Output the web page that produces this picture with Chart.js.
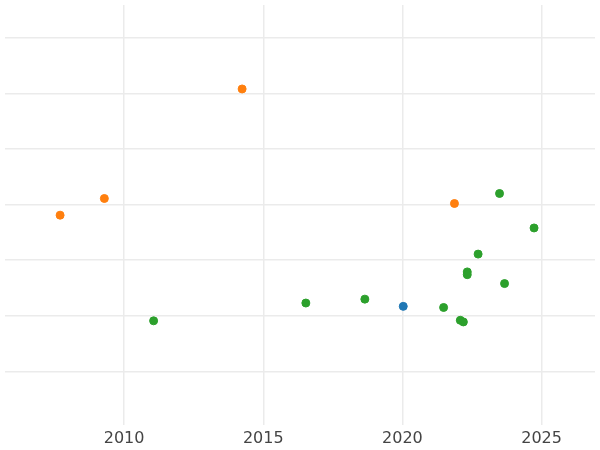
<!DOCTYPE html>
<html>
<head>
<script src="https://cdn.jsdelivr.net/npm/chart.js@4"></script>
<style>
  body { margin: 0; background: #fff; }
  #wrap { width: 600px; height: 450px; }
</style>
</head>
<body>
<div id="wrap"><canvas id="chart"></canvas></div>
<script>
const orangeX = [2007.70, 2009.29, 2014.24, 2021.87];
const orangeY = [3.81, 4.11, 6.08, 4.02];
const blueX = [2020.03];
const blueY = [2.17];
const greenX = [2011.06, 2016.53, 2018.65, 2021.48, 2022.08, 2022.19, 2022.33, 2022.33, 2022.72, 2023.49, 2023.67, 2024.73];
const greenY = [1.91, 2.23, 2.30, 2.15, 1.92, 1.89, 2.79, 2.74, 3.11, 4.20, 2.58, 3.58];
const xTicks = [2010, 2015, 2020, 2025];
const yTicks = [1, 2, 3, 4, 5, 6, 7];

function pts(xs, ys) {
  return xs.map((x, i) => ({ x: x, y: ys[i] }));
}

function series(xs, ys, color) {
  return {
    data: pts(xs, ys),
    backgroundColor: color,
    borderColor: color,
    pointRadius: 4,
    pointHoverRadius: 4
  };
}

new Chart(document.getElementById("chart"), {
  type: "scatter",
  data: {
    datasets: [
      series(orangeX, orangeY, "#ff7f0e"),
      series(blueX, blueY, "#1f77b4"),
      series(greenX, greenY, "#2ca02c")
    ]
  },
  options: {
    responsive: true,
    maintainAspectRatio: false,
    animation: false,
    layout: { padding: { left: -5, right: -5, top: -5, bottom: -2 } },
    plugins: { legend: { display: false }, tooltip: { enabled: false } },
    scales: {
      x: {
        min: 2005.72,
        max: 2026.92,
        afterBuildTicks: (axis) => { axis.ticks = xTicks.map(v => ({ value: v })); },
        grid: { color: "#ebebeb", lineWidth: 1.5, drawTicks: false },
        border: { display: false },
        ticks: {
          color: "#444",
          font: { family: "DejaVu Sans", size: 16 },
          padding: 4,
          callback: (v) => String(v)
        }
      },
      y: {
        min: 0.04,
        max: 7.59,
        afterBuildTicks: (axis) => { axis.ticks = yTicks.map(v => ({ value: v })); },
        grid: { color: "#ebebeb", lineWidth: 1.5, drawTicks: false },
        border: { display: false },
        ticks: { display: false }
      }
    }
  }
});
</script>
</body>
</html>
